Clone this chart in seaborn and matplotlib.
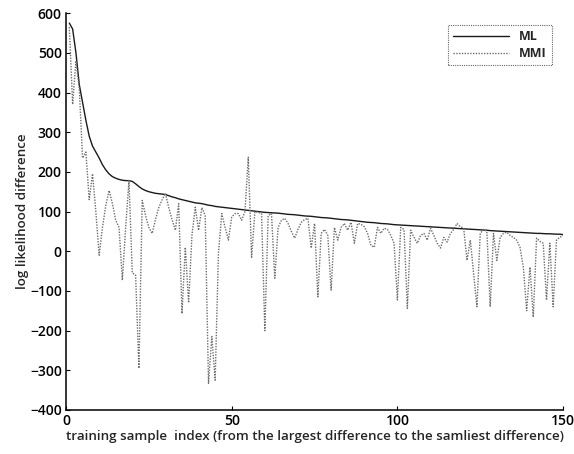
import matplotlib
matplotlib.use("Agg")
import matplotlib.pyplot as plt
import numpy as np
import pandas as pd
import seaborn as sns

# sample index, 1..150
idx = list(range(1, 151))

ml = [575, 560, 500, 420, 375, 330, 290, 265, 250, 235,
      218, 205, 195, 188, 184, 181, 179, 178, 178, 176,
      170, 163, 157, 153, 150, 148, 146, 145, 144, 143,
      140, 137, 135, 132, 130, 128, 126, 124, 122, 121,
      120, 118, 116, 115, 113, 112, 111, 110, 109, 108,
      107, 106, 105, 104, 103, 102, 101, 100, 99, 98,
      97.5, 97, 96.5, 96, 95, 94, 93, 92.5, 92, 91,
      90, 89, 88.5, 88, 87, 86, 85, 84.5, 84, 83,
      82, 81, 80, 79.5, 79, 78, 77, 76, 75, 74,
      73, 72.5, 72, 71, 70, 69.5, 69, 68, 67, 66.5,
      66, 65.5, 65, 64.5, 64, 63.5, 63, 62.5, 62, 61.5,
      61, 60.5, 60, 59.5, 59, 58.5, 58, 57.5, 57, 56.5,
      56, 55.5, 55, 54.5, 54, 53.5, 53, 52, 51.5, 51,
      50.5, 50, 49.5, 49, 48.5, 48, 47.5, 47, 46.5, 46,
      45.5, 45, 45, 44.5, 44, 44, 43.5, 43, 43, 42]

mmi = [565, 370, 480, 410, 235, 250, 130, 195, 100, -10,
       60, 115, 153, 120, 78, 60, -73, 60, 178, -55,
       -60, -295, 128, 90, 60, 45, 80, 110, 130, 146,
       110, 80, 53, 120, -157, 10, -130, 40, 111, 53,
       110, 90, -333, -215, -325, -5, 95, 60, 28, 86,
       95, 95, 78, 100, 237, -15, 100, 98, 95, -200,
       90, 95, -68, 60, 78, 83, 70, 50, 33, 55,
       73, 80, 83, 8, 70, -115, 45, 55, 40, -98,
       60, 28, 60, 70, 53, 73, 20, 70, 68, 62,
       45, 15, 10, 60, 45, 58, 55, 40, 20, -123,
       60, 55, -144, 53, 35, 20, 40, 45, 28, 58,
       40, 20, 8, 35, 23, 45, 55, 70, 62, 58,
       -23, 28, -55, -140, 45, 55, 50, -140, 45, -23,
       35, 45, 48, 40, 35, 28, 10, -40, -150, -40,
       -166, 33, 25, 20, -123, 20, -140, 28, 35, 40]

x_ticks = [0, 50, 100, 150]
y_ticks = [-400, -300, -200, -100, 0, 100, 200, 300, 400, 500, 600]

df = pd.DataFrame({"idx": idx * 2,
                   "value": ml + mmi,
                   "method": ["ML"] * len(ml) + ["MMI"] * len(mmi)})

sns.set_style("ticks")
plt.rcParams['font.family'] = ['Open Sans', 'DejaVu Sans']
plt.rcParams['xtick.direction'] = 'in'
plt.rcParams['ytick.direction'] = 'in'

fig = plt.figure(figsize=(5.74, 4.54), dpi=100)
ax = fig.add_axes([0.115, 0.097, 0.866, 0.874])

sns.lineplot(data=df, x="idx", y="value", hue="method", style="method",
             palette={"ML": "#1a1a1a", "MMI": "#6e6e6e"},
             dashes={"ML": "", "MMI": (1, 1)},
             linewidth=1.0, ax=ax)

ax.set_xlim(0, 150)
ax.set_ylim(-400, 600)
ax.set_xticks(x_ticks)
ax.set_yticks(y_ticks)
ax.tick_params(labelsize=10, length=3, width=0.8, direction='in', colors='black', pad=3)
for lab in ax.get_xticklabels() + ax.get_yticklabels():
    lab.set_fontweight('semibold')
for s in ['top', 'right']:
    ax.spines[s].set_visible(False)
for s in ['left', 'bottom']:
    ax.spines[s].set_linewidth(1.1)
    ax.spines[s].set_color('black')

ax.set_xlabel("training sample  index (from the largest difference to the samliest difference)",
              fontsize=9.6, fontweight='semibold', labelpad=1)
ax.set_ylabel("log likelihood difference", fontsize=9.6, fontweight='semibold', labelpad=1)

leg = ax.legend(loc='upper right', fontsize=9, frameon=True, fancybox=False,
                edgecolor='#444444', handlelength=4.5, borderpad=0.4,
                labelspacing=0.3, bbox_to_anchor=(0.99, 0.985),
                prop={'weight': 'bold', 'size': 9})
leg.get_frame().set_linewidth(0.8)
leg.get_frame().set_linestyle((0, (1, 1)))

fig.savefig("out.png", dpi=100)
